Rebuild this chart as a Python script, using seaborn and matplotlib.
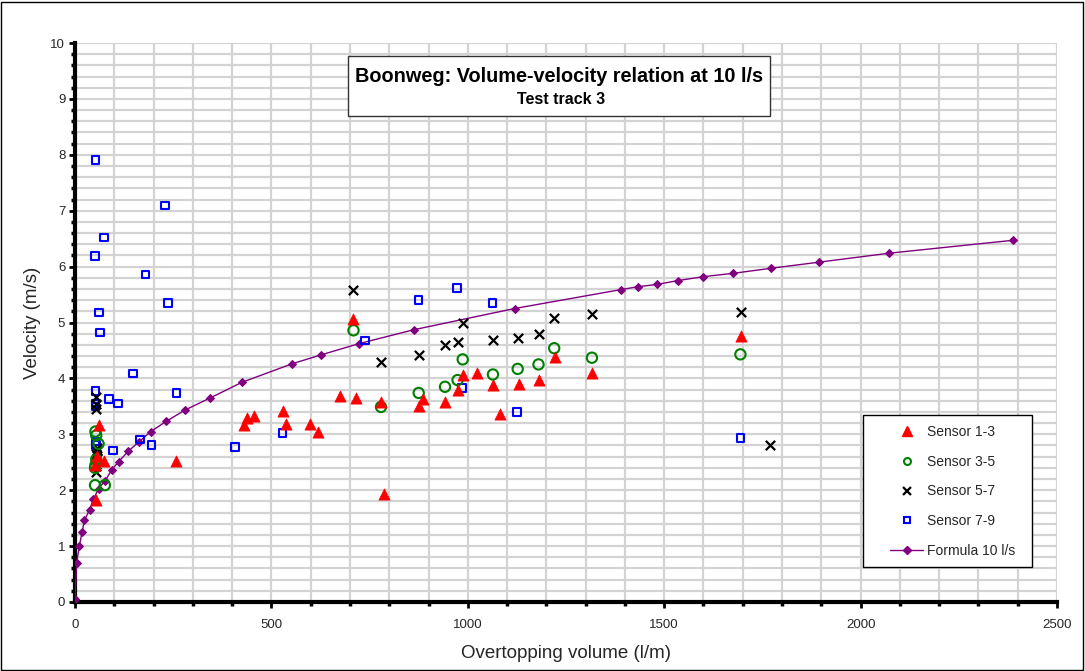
import matplotlib
matplotlib.use("Agg")
import matplotlib.pyplot as plt
import seaborn as sns
import pandas as pd
from matplotlib.patches import Rectangle
from matplotlib.ticker import MultipleLocator
from matplotlib.lines import Line2D

# ---------------- data ----------------
s13_x = [62, 75, 53, 258, 55, 52, 709, 431, 437, 456, 530, 536, 597, 619, 674, 715, 779, 786,
         876, 886, 943, 976, 989, 1023, 1065, 1081, 1130, 1180, 1221, 1317, 1696]
s13_y = [3.17, 2.52, 1.83, 2.53, 2.62, 2.45, 5.06, 3.16, 3.29, 3.33, 3.42, 3.18, 3.18, 3.04, 3.69,
         3.65, 3.57, 1.94, 3.51, 3.64, 3.58, 3.79, 4.06, 4.10, 3.88, 3.36, 3.90, 3.97, 4.39, 4.10, 4.75]

s35_x = [52, 54, 60, 54, 52, 51, 51, 76, 709, 779, 875, 942, 974, 987, 1064, 1127, 1180, 1220, 1316, 1694]
s35_y = [3.05, 2.98, 2.83, 2.55, 2.45, 2.40, 2.09, 2.09, 4.86, 3.49, 3.74, 3.85, 3.97, 4.34, 4.07,
         4.17, 4.25, 4.54, 4.37, 4.43]

s57_x = [53, 53, 53, 55, 56, 54, 56, 53, 54, 709, 780, 875, 943, 974, 987, 1065, 1129, 1180, 1220,
         1317, 1696, 1769]
s57_y = [3.66, 3.55, 3.45, 2.76, 2.70, 2.64, 2.58, 2.43, 2.33, 5.59, 4.29, 4.42, 4.60, 4.66, 5.00,
         4.69, 4.72, 4.79, 5.08, 5.15, 5.18, 2.80]

s79_x = [52, 229, 74, 51, 179, 236, 61, 64, 147, 52, 86, 109, 258, 52, 52, 52, 54, 165, 195, 96,
         407, 528, 739, 874, 973, 1063, 986, 1126, 1694]
s79_y = [7.91, 7.09, 6.52, 6.19, 5.86, 5.35, 5.18, 4.82, 4.09, 3.78, 3.63, 3.55, 3.74, 3.55, 3.50,
         2.87, 2.81, 2.91, 2.81, 2.71, 2.77, 3.02, 4.68, 5.40, 5.62, 5.35, 3.83, 3.40, 2.93]

f_x = [0, 4, 11, 18, 24, 37, 47, 60, 77, 93, 111, 136, 162, 193, 232, 279, 344, 425, 552, 626,
       722, 862, 1119, 1391, 1433, 1481, 1535, 1600, 1676, 1772, 1895, 2073, 2387]
f_y = [0.05, 0.69, 1.00, 1.25, 1.46, 1.65, 1.84, 2.03, 2.17, 2.36, 2.51, 2.70, 2.86, 3.05, 3.23,
       3.43, 3.65, 3.93, 4.26, 4.42, 4.62, 4.87, 5.25, 5.59, 5.64, 5.68, 5.75, 5.82, 5.88, 5.97,
       6.08, 6.24, 6.47]

title = "Boonweg: Volume-velocity relation at 10 l/s"
subtitle = "Test track 3"
xlabel = "Overtopping volume (l/m)"
ylabel = "Velocity (m/s)"
labels = ['Sensor 1-3', 'Sensor 3-5', 'Sensor 5-7', 'Sensor 7-9', 'Formula 10 l/s']

# ---------------- style ----------------
sns.set_style("white")
plt.rcParams['font.family'] = ['Liberation Sans', 'DejaVu Sans']

W, H = 1085, 671
fig = plt.figure(figsize=(W/100, H/100), dpi=100)
ax = fig.add_axes([75/W, 1 - 602/H, (1057-75)/W, (602-43)/H])

ax.set_xlim(0, 2500)
ax.set_ylim(0, 10)
ax.xaxis.set_major_locator(MultipleLocator(500))
ax.xaxis.set_minor_locator(MultipleLocator(100))
ax.yaxis.set_major_locator(MultipleLocator(1))
ax.yaxis.set_minor_locator(MultipleLocator(0.2))
ax.grid(True, which='both', color='#d3d3d3', linewidth=1.6, zorder=0)
ax.set_axisbelow(True)

purple = '#800080'
df_f = pd.DataFrame({'x': f_x, 'y': f_y})
sns.lineplot(data=df_f, x='x', y='y', sort=False, color=purple, linewidth=1.0,
             marker='D', markersize=4.5, markeredgecolor=purple, ax=ax, zorder=3)

sns.scatterplot(x=s79_x, y=s79_y, marker='s', s=30, facecolor='none', edgecolor='#0000ff',
                linewidth=1.5, ax=ax, zorder=4)
sns.scatterplot(x=s57_x, y=s57_y, marker='x', s=45, color='black', linewidth=1.6, ax=ax, zorder=4)
sns.scatterplot(x=s35_x, y=s35_y, marker='o', s=55, facecolor='none', edgecolor='#008000',
                linewidth=1.5, ax=ax, zorder=4)
sns.scatterplot(x=s13_x, y=s13_y, marker='^', s=65, color='#ff0000', edgecolor='#ff0000',
                linewidth=0.5, ax=ax, zorder=5)

# spines & ticks
for sp in ['top', 'right']:
    ax.spines[sp].set_visible(False)
for sp in ['left', 'bottom']:
    ax.spines[sp].set_linewidth(3)
    ax.spines[sp].set_color('black')
ax.tick_params(which='both', left=True, bottom=True, direction='out', color='black')
ax.tick_params(which='major', length=4, width=2, labelsize=9.5, pad=3)
ax.tick_params(which='minor', length=3, width=2.5)
ax.tick_params(axis='x', which='major', pad=8)
ax.set_xticks(ax.get_xticks())
ax.set_xticklabels([str(int(v)) for v in ax.get_xticks()])
ax.set_yticks(ax.get_yticks())
ax.set_yticklabels([str(int(v)) for v in ax.get_yticks()])
ax.set_xlim(0, 2500)
ax.set_ylim(0, 10)

ax.set_xlabel(xlabel, fontsize=13.5, labelpad=10)
ax.set_ylabel(ylabel, fontsize=13.5, labelpad=7)

# title box
fig.patches.append(Rectangle((348/W, 1 - 116/H), (770-348)/W, (116-56)/H,
                             transform=fig.transFigure, facecolor='white', edgecolor='#333333',
                             linewidth=1.0, zorder=10))
fig.text(559/W, 1 - 76/H, title, ha='center', va='center', fontsize=14.3,
         fontweight='bold', color='black', zorder=11)
fig.text(561/W, 1 - 99/H, subtitle, ha='center', va='center', fontsize=11.5,
         fontweight='bold', color='black', zorder=11)

# legend
handles = [
    Line2D([], [], linestyle='none', marker='^', markersize=7, color='#ff0000'),
    Line2D([], [], linestyle='none', marker='o', markersize=5, markerfacecolor='none',
           markeredgecolor='#008000', markeredgewidth=1.5),
    Line2D([], [], linestyle='none', marker='x', markersize=6, color='black', markeredgewidth=1.6),
    Line2D([], [], linestyle='none', marker='s', markersize=5, markerfacecolor='none',
           markeredgecolor='#0000ff', markeredgewidth=1.5),
    Line2D([], [], color=purple, linewidth=1.0, marker='D', markersize=4),
]
fig.patches.append(Rectangle((863/W, 1 - 567/H), (1032-863)/W, (567-415)/H,
                             transform=fig.transFigure, facecolor='white', edgecolor='black',
                             linewidth=1.0, zorder=10))
leg = fig.legend(handles, labels, loc='upper left',
                 bbox_to_anchor=(890/W, 1 - 425/H), bbox_transform=fig.transFigure,
                 fontsize=10, frameon=False, borderpad=0, labelspacing=1.13,
                 handlelength=2.4, handletextpad=0.25, borderaxespad=0)
leg.set_zorder(12)

# figure border
fig.patches.append(Rectangle((0.001, 0.0015), 0.997, 0.996, transform=fig.transFigure,
                             facecolor='none', edgecolor='black', linewidth=1.0))

fig.savefig('out.png', dpi=100)
